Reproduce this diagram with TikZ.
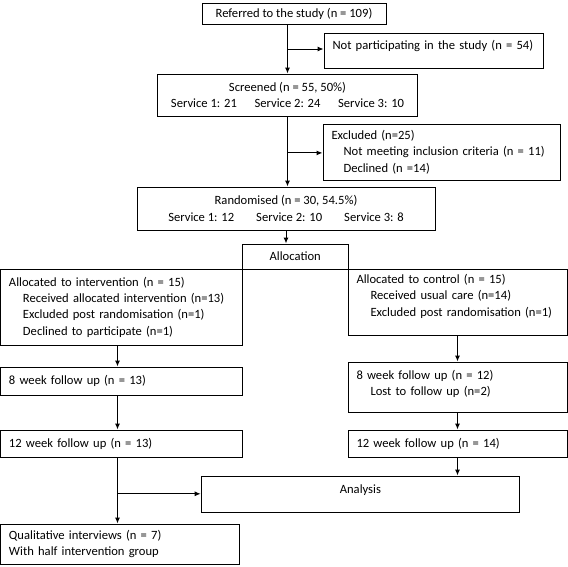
\documentclass[tikz,border=0pt]{standalone}
\usepackage{fontspec}
\setmainfont{Carlito}
\usetikzlibrary{arrows.meta}

\def\ind{\hspace*{14pt}}

\begin{document}
\begin{tikzpicture}[x=1pt,y=-1pt,line width=1pt,>={Latex[length=6pt,width=5pt]}]
    \tikzstyle{box}=[draw,rectangle,inner sep=0pt,font=\fontsize{12.6}{16.3}\selectfont]
    \tikzstyle{leftbox}=[box,align=left,inner xsep=8.5pt]
    \tikzstyle{midbox}=[box,align=center]
    \useasboundingbox (0,0) rectangle (568,566);

    % screening
    \node[midbox, minimum width=184, minimum height=21] (ref) at (294,13.5) {Referred to the study (n = 109)};
    \node[leftbox, minimum width=219.5, minimum height=35, text width=202.5pt, text depth=11.5pt] (notpart) at (433.8,50.5) {Not participating in the study (n = 54)};
    \node[midbox, minimum width=260, minimum height=42] (screen) at (287.5,95) {Screened (n = 55, 50\%)\\Service 1: 21\hspace{1.4em}Service 2: 24\hspace{1.4em}Service 3: 10};
    \node[leftbox, minimum width=237, minimum height=56, text width=220pt] (excl) at (441.5,152) {Excluded (n=25)\\\hspace*{12pt}Not meeting inclusion criteria (n = 11)\\\hspace*{12pt}Declined (n =14)};
    \node[midbox, minimum width=298, minimum height=43] (rand) at (286,208.5) {Randomised (n = 30, 54.5\%)\\Service 1: 12\hspace{1.75em}Service 2: 10\hspace{1.75em}Service 3: 8};
    \node[midbox, minimum width=105.5, minimum height=25] (alloc) at (295.25,256.5) {Allocation};

    % intervention arm
    \node[leftbox, minimum width=242, minimum height=76, text width=225pt] (int) at (121.5,307) {Allocated to intervention (n = 15)\\\ind Received allocated intervention (n=13)\\\ind Excluded post randomisation (n=1)\\\ind Declined to participate (n=1)};
    \node[leftbox, minimum width=242, minimum height=28, text width=225pt] (int8) at (121.5,381) {8 week follow up (n = 13)};
    \node[leftbox, minimum width=242, minimum height=27, text width=225pt] (int12) at (121.5,443.5) {12 week follow up (n = 13)};
    \node[leftbox, minimum width=239, minimum height=40, text width=222pt] (qual) at (120,544) {Qualitative interviews (n = 7)\\With half intervention group};

    % control arm
    \node[leftbox, minimum width=219, minimum height=66, text width=202pt, text depth=46pt] (ctrl) at (457.5,302) {Allocated to control (n = 15)\\\ind Received usual care (n=14)\\\ind Excluded post randomisation (n=1)};
    \node[leftbox, minimum width=219, minimum height=50, text width=202pt, text depth=25pt] (ctrl8) at (457.5,387) {8 week follow up (n = 12)\\\ind Lost to follow up (n=2)};
    \node[leftbox, minimum width=219, minimum height=27, text width=202pt] (ctrl12) at (457.5,443.5) {12 week follow up (n = 14)};

    \node[midbox, minimum width=318.5, minimum height=36, text depth=10pt] (anal) at (360.4,494) {Analysis};

    % arrows
    \coordinate (lx) at (117.5,0);
    \path (ref.south -| screen.north) -- coordinate[pos=.5] (b1) (screen.north);
    \draw[->] (ref.south -| screen.north) -- (screen.north);
    \draw[->] (b1) -- (b1 -| notpart.west);
    \path (screen.south) -- coordinate[pos=.52] (b2) (screen.south |- rand.north);
    \draw[->] (screen.south) -- (screen.south |- rand.north);
    \draw[->] (b2) -- (b2 -| excl.west);
    \draw[->] (rand.south) -- (rand.south |- alloc.north);

    \draw[->] (int.south -| lx) -- (int8.north -| lx);
    \draw[->] (int8.south -| lx) -- (int12.north -| lx);
    \path (int12.south -| lx) -- coordinate[pos=.55] (b3) (qual.north -| lx);
    \draw[->] (int12.south -| lx) -- (qual.north -| lx);
    \draw[->] (b3) -- (b3 -| anal.west);

    \draw[->] (ctrl.south) -- (ctrl8.north);
    \draw[->] (ctrl8.south) -- (ctrl12.north);
    \draw[->] (ctrl12.south) -- (ctrl12.south |- anal.north);
\end{tikzpicture}
\end{document}
